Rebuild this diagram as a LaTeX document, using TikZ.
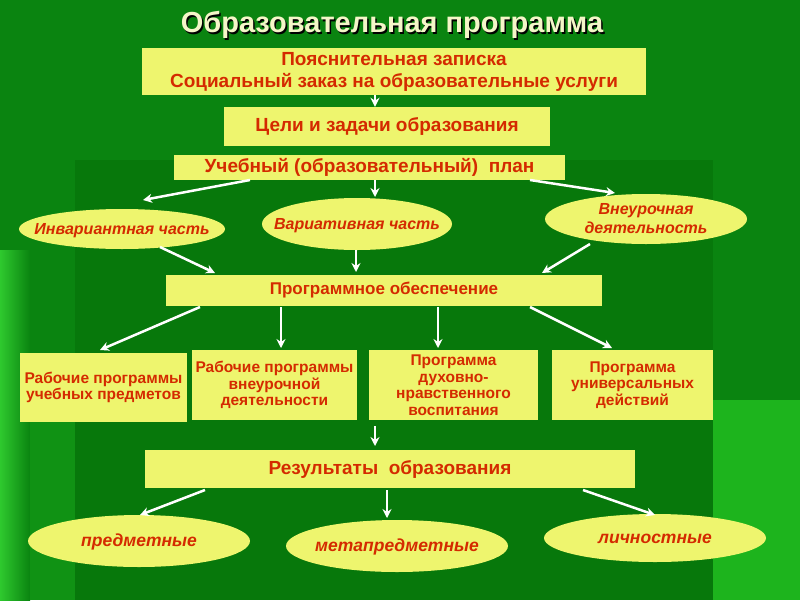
\documentclass[tikz,border=0pt]{standalone}
\usepackage{fontspec}
\setmainfont{Liberation Sans}
\usetikzlibrary{shapes.geometric,arrows.meta}
\definecolor{bg}{HTML}{0A8410}
\definecolor{bgd}{HTML}{07780B}
\definecolor{bgl}{HTML}{1DB41D}
\definecolor{boxf}{HTML}{EEF56E}
\definecolor{txt}{HTML}{D42A00}
\definecolor{ttl}{HTML}{F4F6C8}
\newcommand{\zb}[1]{\smash{\raisebox{-0.36em}{\makebox[0pt]{\begin{tabular}{@{}c@{}}#1\end{tabular}}}}}
\tikzset{
  bx/.style={fill=boxf,text=txt,font=\bfseries\fontsize{19}{22}\selectfont,align=center,inner sep=0pt},
  sbx/.style={bx,font=\bfseries\fontsize{15.5}{16.5}\selectfont},
  ell/.style={ellipse,fill=boxf,text=txt,font=\bfseries\itshape\fontsize{16}{19}\selectfont,inner sep=0pt},
  ar/.style={white,line width=2.5pt,-{Stealth[length=9pt,width=9pt]}}
}
\begin{document}
\begin{tikzpicture}[x=1pt,y=-1pt]
\useasboundingbox (0,0) rectangle (800,600);
\fill[bg] (0,0) rectangle (800,600);
\fill[bgd] (75,160) rectangle (713,600);
\fill[bgl] (713,400) rectangle (800,600);
\shade[left color=bgl!80!green!90!white,right color=bg] (0,250) rectangle (30,600);
\fill[bg!70!bgl] (30,360) rectangle (75,600);
\node[font=\bfseries\fontsize{29}{32}\selectfont,text=ttl] (title) at (392,26) {\makebox[0pt]{\raisebox{-1.5pt}{\hspace{3pt}\textcolor{black}{Образовательная программа}}}\makebox[0pt]{Образовательная программа}};
\node[bx,minimum width=504,minimum height=47] (b1) at (394,71.5) {Пояснительная записка\\Социальный заказ на образовательные услуги};
\node[bx,minimum width=326,minimum height=39] (b2) at (387,126.5) {Цели и задачи образования};
\node[bx,minimum width=391,minimum height=25] (b3) at (369.5,167.5) {Учебный (образовательный)\ \ план};
\node[ell,minimum width=206,minimum height=40] (e1) at (122,229) {\zb{Инвариантная часть}};
\node[ell,minimum width=190,minimum height=52] (e2) at (357,224) {\zb{Вариативная часть}};
\node[ell,minimum width=202,minimum height=50] (e3) at (646,219) {\zb{Внеурочная\\деятельность}};
\node[sbx,font=\bfseries\fontsize{17}{20}\selectfont,minimum width=436,minimum height=31] (b4) at (384,290.5) {Программное обеспечение};
\node[sbx,minimum width=167,minimum height=69] (b5) at (103.5,387.5) {Рабочие программы\\учебных предметов};
\node[sbx,minimum width=165,minimum height=70] (b6) at (274.5,385) {Рабочие программы\\внеурочной\\деятельности};
\node[sbx,minimum width=169,minimum height=70] (b7) at (453.5,385) {\zb{Программа\\духовно-\\нравственного\\воспитания}};
\node[sbx,minimum width=161,minimum height=70] (b8) at (632.5,385) {Программа\\универсальных\\действий};
\node[bx,minimum width=490,minimum height=38] (b9) at (390,469) {Результаты\ \ образования};
\node[ell,font=\itshape\bfseries\fontsize{17.5}{20}\selectfont,minimum width=222,minimum height=52] (e4) at (139,541) {\zb{предметные}};
\node[ell,font=\itshape\bfseries\fontsize{17.5}{20}\selectfont,minimum width=222,minimum height=52] (e5) at (397,546) {\zb{метапредметные}};
\node[ell,font=\itshape\bfseries\fontsize{17.5}{20}\selectfont,minimum width=222,minimum height=48] (e6) at (655,538) {\zb{личностные}};
\draw[ar] (b1.south -| 375,0) -- (b2.north -| 375,0);
\draw[ar] (375,180) -- (375,197);
\draw[ar] (250,180) -- (143,200);
\draw[ar] (530,180) -- (615,193);
\draw[ar] (160,247) -- (215,273);
\draw[ar] (356,250) -- (356,272);
\draw[ar] (590,244) -- (542,273);
\draw[ar] (200,307) -- (100,350);
\draw[ar] (281,307) -- (281,348);
\draw[ar] (438,307) -- (438,348);
\draw[ar] (530,307) -- (612,348);
\draw[ar] (375,426) -- (375,446);
\draw[ar] (205,490) -- (140,515);
\draw[ar] (387,490) -- (387,518);
\draw[ar] (583,490) -- (655,515);
\end{tikzpicture}
\end{document}
